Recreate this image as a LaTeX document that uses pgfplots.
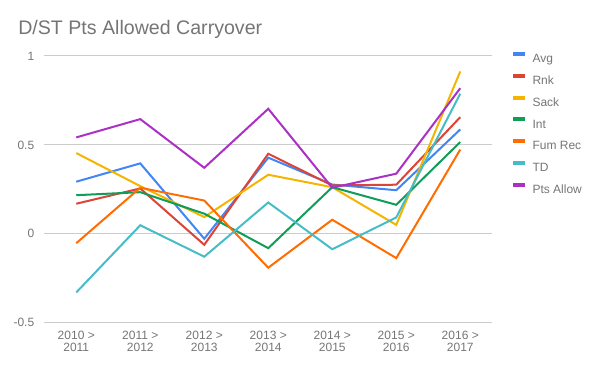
\documentclass[border=0pt]{standalone}
\usepackage{pgfplots}
\pgfplotsset{compat=1.18}
\usepackage{fontspec}
\setmainfont{Liberation Sans}
\definecolor{cAvg}{HTML}{4285F4}
\definecolor{cRnk}{HTML}{DB4437}
\definecolor{cSack}{HTML}{F4B400}
\definecolor{cInt}{HTML}{0F9D58}
\definecolor{cFum}{HTML}{FF6D01}
\definecolor{cTD}{HTML}{46BDC6}
\definecolor{cPts}{HTML}{AB30C4}
\definecolor{txt}{HTML}{757575}
\definecolor{grd}{HTML}{CCCCCC}
\begin{document}
\begin{tikzpicture}
\begin{axis}[
  at={(0,0)}, anchor=south west,
  scale only axis, width=336pt, height=200pt,
  xmin=-0.5, xmax=6.5, ymin=-0.5, ymax=1,
  axis line style={draw=none},
  major tick length=0pt,
  xtick={0,...,6},
  xticklabels={{2010 >\\2011},{2011 >\\2012},{2012 >\\2013},{2013 >\\2014},{2014 >\\2015},{2015 >\\2016},{2016 >\\2017}},
  xticklabel style={align=center, font=\fontsize{9}{9}\selectfont, text=txt, yshift=-3pt},
  ytick={-0.5,0.5,1}, yticklabels={-0.5,0.5,1},
  extra y ticks={0}, extra y tick labels={0},
  extra y tick style={grid style={black, line width=0.75pt}},
  yticklabel style={font=\fontsize{9}{9}\selectfont, text=txt, xshift=-4pt},
  ymajorgrids, major grid style={grd, line width=0.75pt},
  clip=false,
  legend cell align=left,
  legend style={at={(1,1)}, anchor=north west, xshift=14pt, yshift=3pt, draw=none, fill=none,
    inner sep=0pt, row sep=8.35pt, column sep=4pt,
    nodes={inner sep=0pt, text height=6.5pt, text depth=0pt, text=txt, font=\fontsize{9}{9}\selectfont}},
  legend image code/.code={\draw[line width=3pt] (0pt,3.2pt) -- (9pt,3.2pt);},
  every axis plot/.append style={line width=1.5pt, mark=none},
]
\addplot[cAvg] coordinates {(0,0.293) (1,0.396) (2,-0.028) (3,0.428) (4,0.277) (5,0.245) (6,0.587)};
\addplot[cRnk] coordinates {(0,0.169) (1,0.255) (2,-0.062) (3,0.450) (4,0.272) (5,0.276) (6,0.656)};
\addplot[cSack] coordinates {(0,0.454) (1,0.268) (2,0.094) (3,0.332) (4,0.262) (5,0.050) (6,0.913)};
\addplot[cInt] coordinates {(0,0.217) (1,0.234) (2,0.113) (3,-0.081) (4,0.262) (5,0.163) (6,0.516)};
\addplot[cFum] coordinates {(0,-0.053) (1,0.259) (2,0.187) (3,-0.191) (4,0.079) (5,-0.137) (6,0.474)};
\addplot[cTD] coordinates {(0,-0.330) (1,0.048) (2,-0.129) (3,0.176) (4,-0.087) (5,0.092) (6,0.788)};
\addplot[cPts] coordinates {(0,0.542) (1,0.645) (2,0.371) (3,0.703) (4,0.259) (5,0.338) (6,0.819)};
\legend{Avg,Rnk,Sack,Int,Fum Rec,TD,Pts Allow}
\end{axis}
\node[anchor=base west, inner sep=0pt, text=txt, font=\fontsize{14.7}{14.7}\selectfont] at (-19.7pt,215.8pt) {D/ST Pts Allowed Carryover};
\useasboundingbox (-33.2pt,-36.2pt) rectangle (416.8pt,242.0pt);
\end{tikzpicture}
\end{document}
